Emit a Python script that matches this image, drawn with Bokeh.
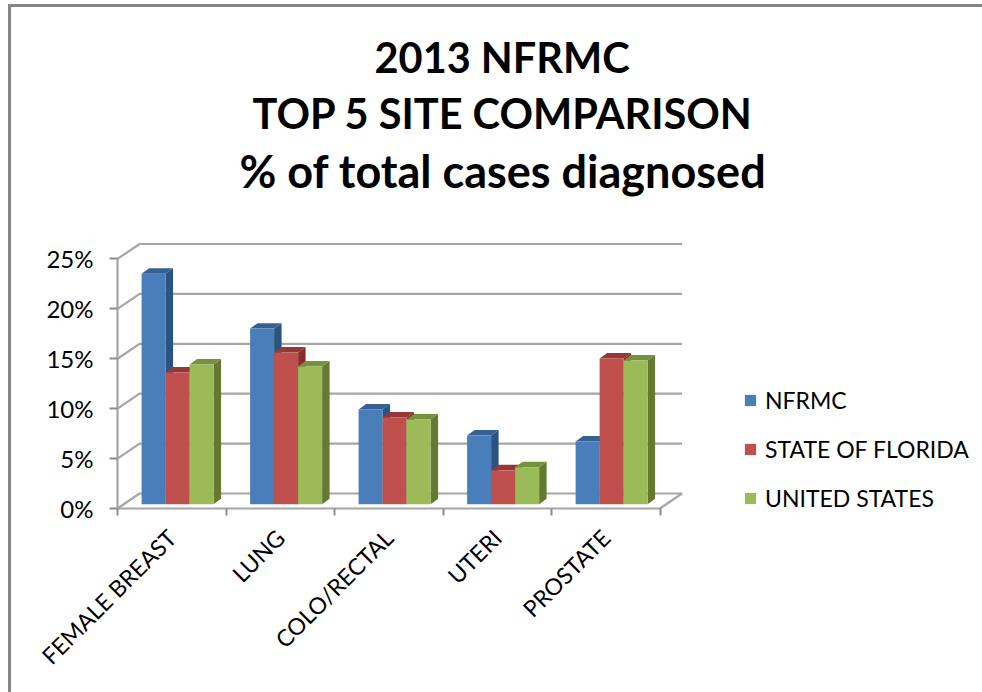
from math import pi
from bokeh.embed import file_html
from bokeh.resources import INLINE
from bokeh.plotting import figure
from bokeh.models import (Range1d, FixedTicker, PrintfTickFormatter, Legend, LegendItem, Title)

categories = ["FEMALE BREAST", "LUNG", "COLO/RECTAL", "UTERI", "PROSTATE"]
nfrmc = [23.1, 17.6, 9.5, 6.9, 6.3]
florida = [13.2, 15.2, 8.7, 3.4, 14.6]
united_states = [14.0, 13.8, 8.5, 3.7, 14.4]
series_names = ["NFRMC", "STATE OF FLORIDA", "UNITED STATES"]
y_ticks = [0, 5, 10, 15, 20, 25]
title_lines = ["2013 NFRMC", "TOP 5 SITE COMPARISON", "% of total cases diagnosed"]
title_offsets = [363, 241, 228]
title_sizes = ["41.5px", "41.5px", "45px"]

front_colors = ["#4a7ebb", "#c0504d", "#9bbb59"]
side_colors = ["#2c5280", "#8a2e2b", "#647a31"]
top_colors = ["#376092", "#953735", "#76923c"]
GRID = "#a6a6a6"
AXIS = "#8c8c8c"
FONT = "Lato"

# 3D projection in data units
WALL_DX, WALL_DY = 0.203, 1.5
BAR_DX, BAR_DY = 0.069, 0.55
BAR_START, BAR_W = 0.222, 0.2212
BASE = 0.42

p = figure(width=974, height=688, output_backend="svg", toolbar_location=None,
           x_range=Range1d(-0.977, 7.972), y_range=Range1d(-18.44, 26.85),
           min_border_left=0, min_border_right=3, min_border_top=233, min_border_bottom=3,
           outline_line_color=None, background_fill_color="white", border_fill_color="white",
           title=None,
           styles={"position": "absolute", "left": "8px", "top": "4px",
                   "border-left": "3px solid #868686", "border-top": "3px solid #868686"})
p.grid.visible = False

# spacing between the title block and the plot
p.add_layout(Title(text=" ", standoff=38, text_font_size="1px"), "above")
for i in (2, 1, 0):
    p.add_layout(Title(text=title_lines[i], align="left", offset=title_offsets[i],
                       standoff=4, text_font=FONT,
                       text_font_size=title_sizes[i], text_font_style="bold",
                       text_color="#000000"), "above")

# back wall and floor
gx = [[0, WALL_DX, 5 + WALL_DX] for _ in y_ticks]
gy = [[v, v + WALL_DY, v + WALL_DY] for v in y_ticks]
p.multi_line(gx, gy, line_color=GRID, line_width=2.2)
p.line([5, 5 + WALL_DX], [0, WALL_DY], line_color=GRID, line_width=2.2)

all_values = [nfrmc, florida, united_states]
items = []
for s, vals in enumerate(all_values):
    lefts = [i + BAR_START + s * BAR_W for i in range(len(vals))]
    rights = [l + BAR_W for l in lefts]
    tops = [BASE + v for v in vals]
    side_x = [[r, r + BAR_DX, r + BAR_DX, r] for r in rights]
    side_y = [[BASE, BASE + BAR_DY, t + BAR_DY, t] for t in tops]
    top_x = [[l, l + BAR_DX, r + BAR_DX, r] for l, r in zip(lefts, rights)]
    top_y = [[t, t + BAR_DY, t + BAR_DY, t] for t in tops]
    p.patches(side_x, side_y, fill_color=side_colors[s], line_color=None)
    p.patches(top_x, top_y, fill_color=top_colors[s], line_color=None)
    r = p.quad(left=lefts, right=rights, bottom=BASE, top=tops,
               fill_color=front_colors[s], line_color=None)
    items.append(LegendItem(label=series_names[s], renderers=[r]))

# axes
xa = p.xaxis[0]
xa.fixed_location = 0
xa.ticker = FixedTicker(ticks=[i + 0.5 for i in range(len(categories))],
                        minor_ticks=list(range(len(categories) + 1)))
xa.major_label_overrides = {i + 0.5: c for i, c in enumerate(categories)}
xa.major_label_orientation = pi / 4
xa.major_label_text_font = FONT
xa.major_label_text_font_size = "23px"
xa.major_label_text_color = "#000000"
xa.major_label_standoff = 18
xa.major_tick_in = 0
xa.major_tick_out = 0
xa.minor_tick_in = 0
xa.minor_tick_out = 7
xa.minor_tick_line_color = AXIS
xa.minor_tick_line_width = 2
xa.axis_line_color = GRID
xa.axis_line_width = 2.2
xa.bounds = (0, 5)

ya = p.yaxis[0]
ya.fixed_location = 0
ya.ticker = FixedTicker(ticks=y_ticks)
ya.formatter = PrintfTickFormatter(format="%d%%")
ya.major_label_text_font = FONT
ya.major_label_text_font_size = "24px"
ya.major_label_text_color = "#000000"
ya.major_label_standoff = 16
ya.major_tick_in = 0
ya.major_tick_out = 8
ya.major_tick_line_color = AXIS
ya.major_tick_line_width = 2
ya.minor_tick_line_color = None
ya.axis_line_color = GRID
ya.axis_line_width = 2.2
ya.bounds = (0, 25)

legend = Legend(items=items, location=(732, 180), orientation="vertical",
                border_line_color=None, background_fill_color=None,
                glyph_width=14, glyph_height=14, label_standoff=8, spacing=21,
                padding=0, margin=0, label_text_font=FONT, label_text_font_size="23px",
                label_text_color="#000000", label_height=14)
p.add_layout(legend, "center")

open("out.html", "w").write(file_html(p, INLINE))
